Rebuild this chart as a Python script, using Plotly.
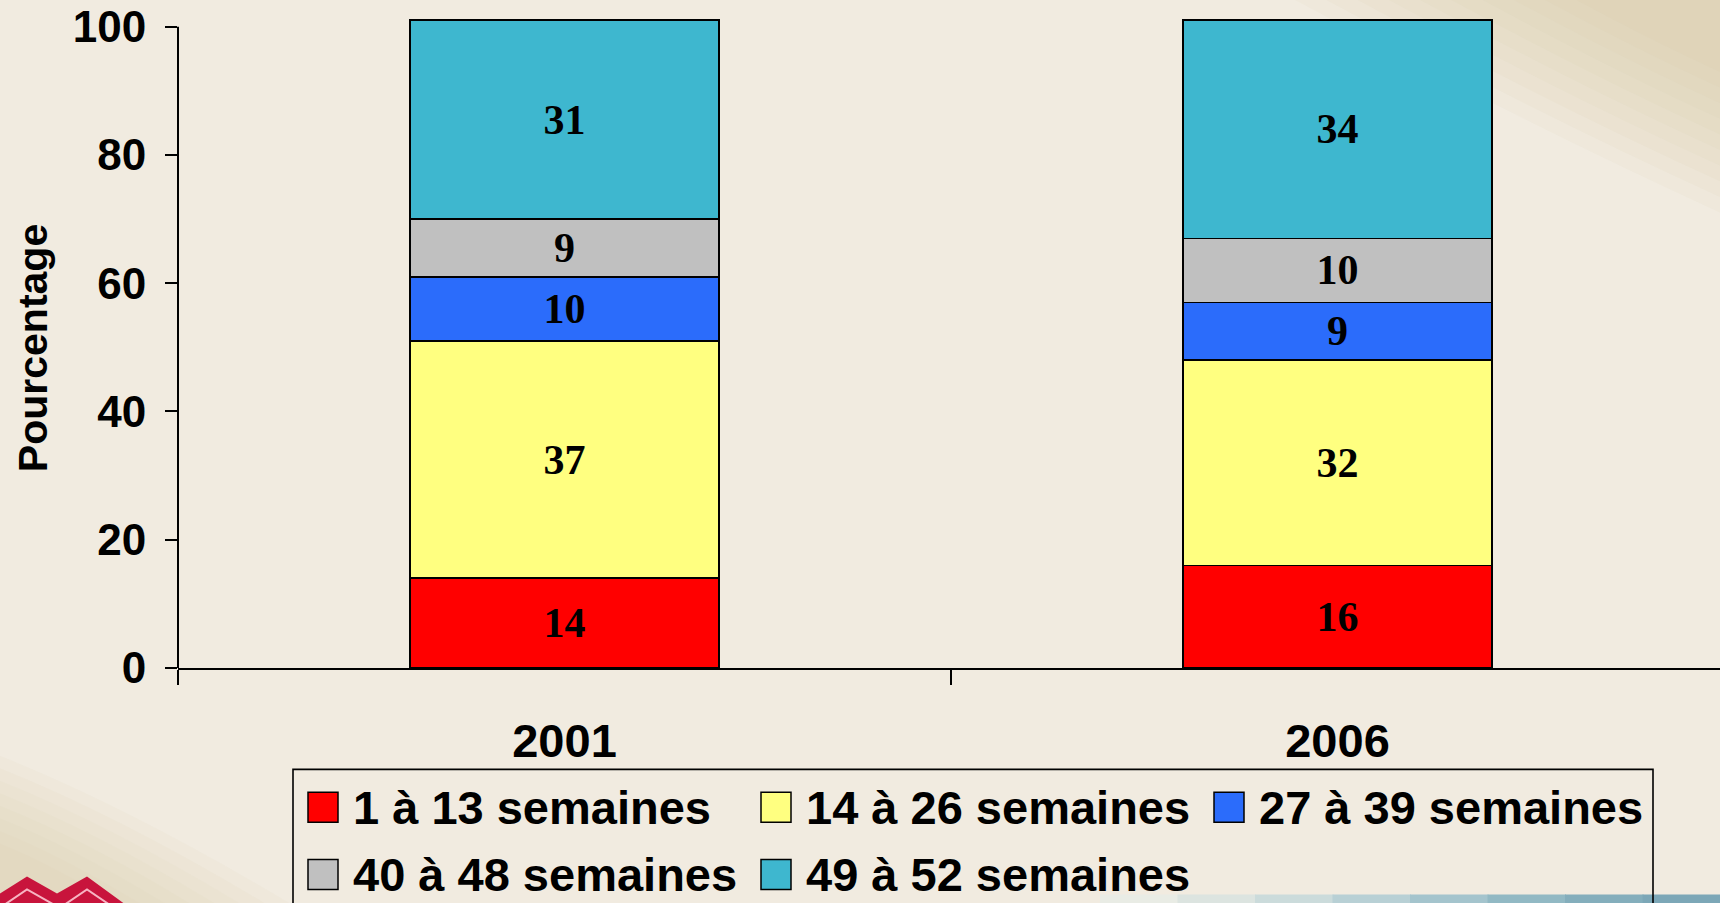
import plotly.graph_objects as go

# ---------------- data ----------------
years = ["2001", "2006"]
series_names = ["1 à 13 semaines", "14 à 26 semaines", "27 à 39 semaines",
                "40 à 48 semaines", "49 à 52 semaines"]
v_1_13 = [14, 16]
v_14_26 = [37, 32]
v_27_39 = [10, 9]
v_40_48 = [9, 10]
v_49_52 = [31, 34]
series_values = [v_1_13, v_14_26, v_27_39, v_40_48, v_49_52]
series_colors = ["#FF0000", "#FFFF80", "#2B6CFB", "#C0C0C0", "#3EB7CF"]
y_ticks = [0, 20, 40, 60, 80, 100]
y_title = "Pourcentage"

# ---------------- geometry ----------------
W, H = 1720, 903
L, R, T = 178, 0, 19
Y0PX = 667.7
B = H - Y0PX
PW = W - L - R
PH = Y0PX - T


def px(x):
    return (x - L) / PW


def py(y):
    return (Y0PX - y) / PH


BG = "#F1EBE0"
fig = go.Figure()

for name, vals, col in zip(series_names, series_values, series_colors):
    fig.add_trace(go.Bar(
        x=years, y=vals, name=name,
        marker=dict(color=col, line=dict(color="black", width=1.6)),
        width=0.4,
        text=[str(v) for v in vals],
        textposition="inside",
        insidetextanchor="middle",
        textangle=0,
        constraintext="none",
        textfont=dict(family="Liberation Serif, Times New Roman, serif",
                      size=42, color="black", weight="bold"),
        showlegend=False,
    ))

shapes = []
# soft background decorations (top-right darker beige glow)
for k in range(10):
    r = 120 + k * 26
    shapes.append(dict(type="path", xref="paper", yref="paper",
                       path=(f"M {px(1720 - r * 1.2)},{py(0)} L {px(1720)},{py(0)} L {px(1720)},{py(r * 0.6)} "
                             f"Q {px(1720 - r * 0.55)},{py(r * 0.35)} {px(1720 - r * 1.2)},{py(0)} Z"),
                       fillcolor="#D8C69C", opacity=0.07, line=dict(width=0), layer="below"))
# bottom-left beige glow
for k in range(8):
    r = 120 + k * 25
    shapes.append(dict(type="path", xref="paper", yref="paper",
                       path=(f"M {px(0)},{py(903 - r * 0.5)} Q {px(r * 0.45)},{py(903 - r * 0.32)} "
                             f"{px(r)},{py(906)} L {px(0)},{py(906)} Z"),
                       fillcolor="#D6C7A2", opacity=0.08, line=dict(width=0), layer="below"))
# bottom blue strip
strip_cols = ["#E9ECE5", "#DCE4E0", "#CBDBDB", "#B8D0D5", "#A4C4CD", "#92B9C4", "#84AEBC", "#7CA7B7"]
n = len(strip_cols)
for i, c in enumerate(strip_cols):
    x0 = 1100 + i * (620 / n)
    shapes.append(dict(type="rect", xref="paper", yref="paper",
                       x0=px(x0), x1=px(x0 + 620 / n + 1), y0=py(894), y1=py(906),
                       fillcolor=c, line=dict(width=0), layer="below"))
# logo mountains
shapes.append(dict(type="path", xref="paper", yref="paper",
                   path=(f"M {px(0)},{py(906)} L {px(0)},{py(893)} L {px(27)},{py(876)} L {px(57)},{py(893)} "
                         f"L {px(87)},{py(876)} L {px(128)},{py(906)} Z"),
                   fillcolor="#C8143C", line=dict(width=0), layer="below"))
shapes.append(dict(type="path", xref="paper", yref="paper",
                   path=(f"M {px(2)},{py(906)} L {px(27)},{py(889)} L {px(57)},{py(906)} "
                         f"M {px(62)},{py(906)} L {px(87)},{py(889)} L {px(112)},{py(906)}"),
                   line=dict(color="#F7B4C2", width=2), layer="below"))

# y axis line (0 -> 100)
shapes.append(dict(type="line", xref="paper", yref="y", x0=0, x1=0,
                   y0=y_ticks[0], y1=y_ticks[-1], line=dict(color="black", width=2)))

# manual legend
shapes.append(dict(type="rect", xref="paper", yref="paper",
                   x0=px(293), x1=px(1653), y0=py(769), y1=py(910),
                   line=dict(color="black", width=1.6), fillcolor="rgba(0,0,0,0)"))
col_x = [308, 761, 1214]
row_y = [807, 874]
sw = 30
annotations = []
for i, (name, col) in enumerate(zip(series_names, series_colors)):
    cx = col_x[i % 3]
    cy = row_y[i // 3]
    shapes.append(dict(type="rect", xref="paper", yref="paper",
                       x0=px(cx), x1=px(cx + sw), y0=py(cy - sw / 2), y1=py(cy + sw / 2),
                       fillcolor=col, line=dict(color="black", width=1.5)))
    annotations.append(dict(xref="paper", yref="paper", x=px(cx + sw + 13), y=py(cy),
                            xanchor="left", yanchor="middle", showarrow=False,
                            text=name,
                            font=dict(family="Liberation Sans, Arial, sans-serif",
                                      size=47, color="black", weight="bold")))

annotations.append(dict(xref="paper", yref="paper", x=px(33), y=py(348),
                        xanchor="center", yanchor="middle", showarrow=False,
                        text=y_title, textangle=-90,
                        font=dict(family="Liberation Sans, Arial, sans-serif",
                                  size=41, color="black", weight="bold")))

fig.update_layout(
    width=W, height=H,
    barmode="stack",
    margin=dict(l=L, r=R, t=T, b=B, pad=0),
    paper_bgcolor=BG, plot_bgcolor="rgba(0,0,0,0)",
    showlegend=False,
    shapes=shapes,
    annotations=annotations,
    xaxis=dict(type="category", range=[-0.5, 1.4948], tickson="boundaries",
               ticks="outside", ticklen=15, tickwidth=2, tickcolor="black",
               showline=True, linecolor="black", linewidth=2,
               showgrid=False, zeroline=False,
               ticklabelstandoff=31,
               tickfont=dict(family="Liberation Sans, Arial, sans-serif",
                             size=47, color="black", weight="bold")),
    yaxis=dict(range=[0, 101.2], tickvals=y_ticks,
               ticks="outside", ticklen=12, tickwidth=2, tickcolor="black",
               showline=False, showgrid=False, zeroline=False,
               ticklabelstandoff=10,
               tickfont=dict(family="Liberation Sans, Arial, sans-serif",
                             size=44, color="black", weight="bold")),
)

fig.write_html("out.html",
               config={"displayModeBar": False},
               post_script="document.body.style.margin='0';document.body.style.background='#F1EBE0';")
